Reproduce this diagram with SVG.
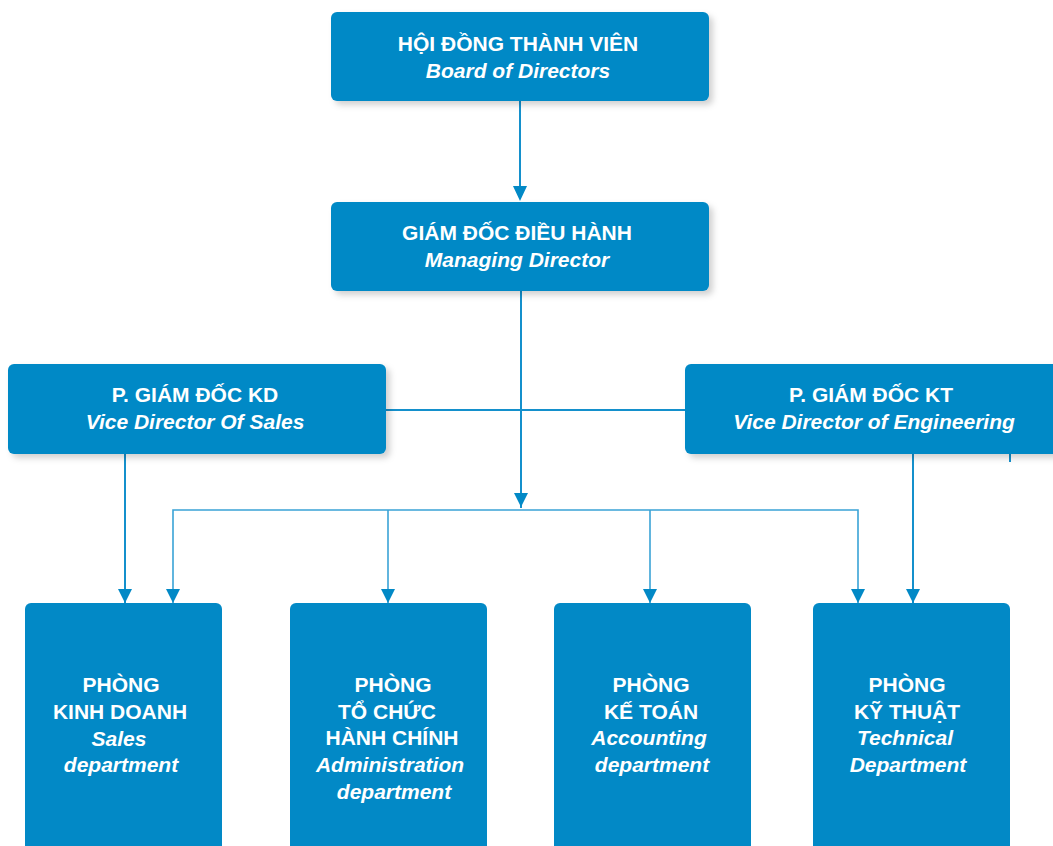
<svg xmlns="http://www.w3.org/2000/svg" width="1053" height="846" viewBox="0 0 1053 846">
<style>
.box{fill:#0289C6}
.t{font-family:"Liberation Sans",Arial,sans-serif;font-weight:bold;font-size:21px;fill:#fff;text-anchor:middle}
.i{font-style:italic}
.c{fill:none;stroke:#1490CC;stroke-width:2}
.c2{fill:none;stroke:#3aa3d6;stroke-width:1.6}
.ah{fill:#0289C6}
</style>
<defs>
<filter id="sh" x="-5%" y="-10%" width="110%" height="130%">
<feDropShadow dx="4" dy="4" stdDeviation="3" flood-color="#000" flood-opacity="0.18"/>
</filter>
</defs>
<rect width="1053" height="846" fill="#fff"/>
<g id="connectors">
<line class="c" x1="520" y1="101" x2="520" y2="190"/>
<path class="ah" d="M513,186 L527,186 L520,201 Z"/>
<line class="c" x1="521" y1="291" x2="521" y2="508"/>
<path class="ah" d="M514,493 L528,493 L521,507 Z"/>
<line class="c" x1="386" y1="410" x2="685" y2="410"/>
<path class="c2" d="M173,603 V510 H858 V603"/>
<line class="c2" x1="388" y1="510" x2="388" y2="603"/>
<line class="c2" x1="650" y1="510" x2="650" y2="603"/>
<line class="c" x1="125" y1="454" x2="125" y2="603"/>
<line class="c" x1="913" y1="454" x2="913" y2="603"/>
<line class="c" x1="1010" y1="454" x2="1010" y2="462"/>
<path class="ah" d="M118,589 L132,589 L125,603 Z"/>
<path class="ah" d="M166,589 L180,589 L173,603 Z"/>
<path class="ah" d="M381,589 L395,589 L388,603 Z"/>
<path class="ah" d="M643,589 L657,589 L650,603 Z"/>
<path class="ah" d="M851,589 L865,589 L858,603 Z"/>
<path class="ah" d="M906,589 L920,589 L913,603 Z"/>
</g>
<g id="board">
<rect class="box" x="331" y="12" width="378" height="89" rx="6" filter="url(#sh)"/>
<text class="t" x="518" y="51">HỘI ĐỒNG THÀNH VIÊN</text>
<text class="t i" x="518" y="78">Board of Directors</text>
</g>
<g id="managing">
<rect class="box" x="331" y="202" width="378" height="89" rx="6" filter="url(#sh)"/>
<text class="t" x="517" y="240">GIÁM ĐỐC ĐIỀU HÀNH</text>
<text class="t i" x="517" y="267">Managing Director</text>
</g>
<g id="vd-sales">
<rect class="box" x="8" y="364" width="378" height="90" rx="6" filter="url(#sh)"/>
<text class="t" x="195" y="402">P. GIÁM ĐỐC KD</text>
<text class="t i" x="195" y="429">Vice Director Of Sales</text>
</g>
<g id="vd-eng">
<rect class="box" x="685" y="364" width="378" height="90" rx="6" filter="url(#sh)"/>
<text class="t" x="871" y="402">P. GIÁM ĐỐC KT</text>
<text class="t i" x="874" y="429">Vice Director of Engineering</text>
</g>
<g id="sales">
<rect class="box" x="25" y="603" width="197" height="260" rx="6"/>
<text class="t" x="121" y="692">PHÒNG</text>
<text class="t" x="120" y="719">KINH DOANH</text>
<text class="t i" x="119" y="746">Sales</text>
<text class="t i" x="121" y="772">department</text>
</g>
<g id="admin">
<rect class="box" x="290" y="603" width="197" height="260" rx="6"/>
<text class="t" x="393" y="692">PHÒNG</text>
<text class="t" x="387" y="719">TỔ CHỨC</text>
<text class="t" x="392" y="745">HÀNH CHÍNH</text>
<text class="t i" x="390" y="772">Administration</text>
<text class="t i" x="394" y="799">department</text>
</g>
<g id="accounting">
<rect class="box" x="554" y="603" width="197" height="260" rx="6"/>
<text class="t" x="651" y="692">PHÒNG</text>
<text class="t" x="651" y="719">KẾ TOÁN</text>
<text class="t i" x="649" y="745">Accounting</text>
<text class="t i" x="652" y="772">department</text>
</g>
<g id="technical">
<rect class="box" x="813" y="603" width="197" height="260" rx="6"/>
<text class="t" x="907" y="692">PHÒNG</text>
<text class="t" x="907" y="719">KỸ THUẬT</text>
<text class="t i" x="905" y="745">Technical</text>
<text class="t i" x="908" y="772">Department</text>
</g>
</svg>
